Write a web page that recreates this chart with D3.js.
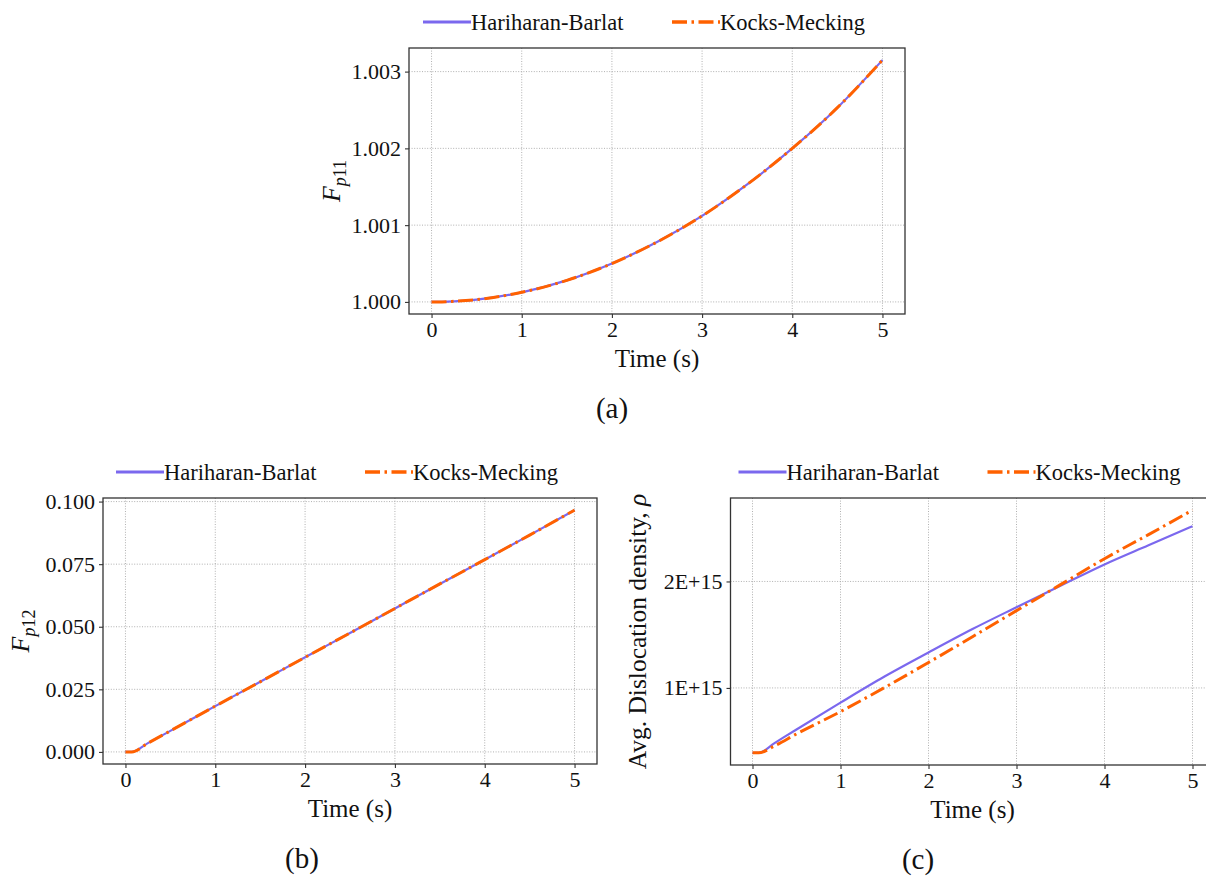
<!DOCTYPE html>
<html>
<head>
<meta charset="utf-8">
<script src="https://cdn.jsdelivr.net/npm/d3@7"></script>
<style>
  body { margin: 0; background: #fff; }
  text { font-family: "Liberation Serif", serif; fill: #111; }
</style>
</head>
<body>
<div id="graph-container"></div>
<script>
// time samples (s)
const times = [0, 0.07, 0.25, 0.5, 1, 1.5, 2, 2.5, 3, 3.5, 4, 4.5, 5]
const xTicks = [0, 1, 2, 3, 4, 5]
const seriesNames = ["Hariharan-Barlat", "Kocks-Mecking"]

// (a) Fp11
const fp11HB = [1.0, 1.0, 1.000008, 1.00003, 1.000125, 1.00028, 1.0005, 1.00078, 1.00112, 1.00153, 1.002, 1.00253, 1.00315]
const fp11KM = [1.0, 1.0, 1.000008, 1.00003, 1.000125, 1.00028, 1.0005, 1.00078, 1.00112, 1.00153, 1.002, 1.00253, 1.00315]
const fp11Ticks = [1.000, 1.001, 1.002, 1.003]

// (b) Fp12
const fp12HB = [0, 0, 0.0035, 0.0084, 0.0183, 0.0280, 0.0378, 0.0475, 0.0573, 0.0671, 0.0768, 0.0866, 0.0966]
const fp12KM = [0, 0, 0.0035, 0.0084, 0.0183, 0.0280, 0.0378, 0.0475, 0.0573, 0.0671, 0.0768, 0.0866, 0.0966]
const fp12Ticks = [0, 0.025, 0.05, 0.075, 0.1]

// (c) avg dislocation density
const rhoHB = [0.39e15, 0.39e15, 0.482e15, 0.61e15, 0.862e15, 1.107e15, 1.333e15, 1.553e15, 1.758e15, 1.96e15, 2.16e15, 2.34e15, 2.519e15]
const rhoKM = [0.39e15, 0.39e15, 0.455e15, 0.568e15, 0.777e15, 1.003e15, 1.239e15, 1.481e15, 1.726e15, 1.97e15, 2.214e15, 2.44e15, 2.67e15]
const rhoTicks = [1e15, 2e15]

const blue = "#7b68ee"
const orange = "#ff6100"
const width = 1206
const height = 877

const svg = d3.select("#graph-container").append("svg")
    .attr("width", width)
    .attr("height", height)
    .attr("viewBox", [0, 0, width, height])

svg.append("rect").attr("width", width).attr("height", height).attr("fill", "#fff")

function drawPanel(opt) {
    const g = svg.append("g")
    const x = d3.scaleLinear().domain([-0.25, 5.25]).range([opt.left, opt.right])

    const all = opt.hb.concat(opt.km)
    const lo = d3.min(all), hi = d3.max(all), pad = (hi - lo) * 0.05
    const y = d3.scaleLinear().domain([lo - pad, hi + pad]).range([opt.bottom, opt.top])

    // grid
    const grid = g.append("g")
        .attr("stroke", "#a8a8a8")
        .attr("stroke-width", 0.9)
        .attr("stroke-dasharray", "1,1.6")
    grid.selectAll(".gx").data(xTicks).join("line")
        .attr("x1", d => x(d)).attr("x2", d => x(d))
        .attr("y1", opt.top).attr("y2", opt.bottom)
    grid.selectAll(".gy").data(opt.yTicks).join("line")
        .attr("x1", opt.left).attr("x2", opt.right)
        .attr("y1", d => y(d)).attr("y2", d => y(d))

    // lines
    const line = vals => d3.line()
        .x((d, i) => x(times[i]))
        .y(d => y(d))
        .curve(d3.curveMonotoneX)(vals)

    g.append("path").attr("d", line(opt.hb))
        .attr("fill", "none").attr("stroke", blue).attr("stroke-width", 2.2)
    g.append("path").attr("d", line(opt.km))
        .attr("fill", "none").attr("stroke", orange).attr("stroke-width", 3)
        .attr("stroke-dasharray", "15,4.5,2.5,4.5")

    // axes
    const xAxis = g.append("g")
        .attr("transform", `translate(0,${opt.bottom})`)
        .call(d3.axisBottom(x).tickValues(xTicks).tickFormat(d3.format("d")).tickSize(4).tickPadding(3))
    const yAxis = g.append("g")
        .attr("transform", `translate(${opt.left},0)`)
        .call(d3.axisLeft(y).tickValues(opt.yTicks).tickFormat(opt.yFormat).tickSize(4).tickPadding(4))
    for (const ax of [xAxis, yAxis]) {
        ax.select(".domain").remove()
        ax.selectAll(".tick line").attr("stroke", "#333").attr("stroke-width", 1.1)
        ax.selectAll(".tick text").attr("font-family", "Liberation Serif, serif").attr("font-size", 22).attr("fill", "#111")
    }

    // frame
    g.append("rect")
        .attr("x", opt.left).attr("y", opt.top)
        .attr("width", opt.right - opt.left).attr("height", opt.bottom - opt.top)
        .attr("fill", "none").attr("stroke", "#333").attr("stroke-width", 1.3)

    // x label
    g.append("text")
        .attr("x", (opt.left + opt.right) / 2).attr("y", opt.bottom + 53)
        .attr("text-anchor", "middle").attr("font-size", 25)
        .text("Time (s)")

    // y label
    const yl = g.append("text")
        .attr("transform", `translate(${opt.ylabelX},${(opt.top + opt.bottom) / 2}) rotate(-90)`)
        .attr("text-anchor", "middle").attr("dy", "0.35em").attr("font-size", opt.ylabelSize)
    opt.ylabel(yl)

    // caption
    g.append("text")
        .attr("x", opt.captionX).attr("y", opt.bottom + 104)
        .attr("text-anchor", "middle").attr("font-size", 29)
        .text(opt.caption)

    // legend
    const cx = (opt.left + opt.right) / 2
    const ly = opt.top - 26
    const items = [
        { name: seriesNames[0], x: cx - 234, color: blue, w: 3, dash: null },
        { name: seriesNames[1], x: cx + 15, color: orange, w: 3.5, dash: "15,4.5,2.5,4.5" }
    ]
    const leg = g.append("g")
    items.forEach(it => {
        leg.append("line")
            .attr("x1", it.x).attr("x2", it.x + 48)
            .attr("y1", ly).attr("y2", ly)
            .attr("stroke", it.color).attr("stroke-width", it.w)
            .attr("stroke-dasharray", it.dash)
        leg.append("text")
            .attr("x", it.x + 48).attr("y", ly).attr("dy", "0.35em")
            .attr("font-size", 22.5)
            .text(it.name)
    })
}

function fLabel(sub) {
    return t => {
        t.append("tspan").attr("font-style", "italic").text("F")
        t.append("tspan").attr("font-style", "italic").attr("font-size", 18).attr("dy", 6).text("p")
        t.append("tspan").attr("font-size", 18).text(sub)
    }
}

drawPanel({
    left: 409, right: 905, top: 48, bottom: 314,
    hb: fp11HB, km: fp11KM, yTicks: fp11Ticks, yFormat: d3.format(".3f"),
    ylabelX: 331, ylabelSize: 26, ylabel: fLabel("11"),
    caption: "(a)", captionX: 612
})

drawPanel({
    left: 103, right: 597, top: 498, bottom: 764,
    hb: fp12HB, km: fp12KM, yTicks: fp12Ticks, yFormat: d3.format(".3f"),
    ylabelX: 20, ylabelSize: 26, ylabel: fLabel("12"),
    caption: "(b)", captionX: 302
})

drawPanel({
    left: 730.5, right: 1214.5, top: 498, bottom: 765,
    hb: rhoHB, km: rhoKM, yTicks: rhoTicks, yFormat: d => `${Math.round(d / 1e15)}E+15`,
    ylabelX: 637, ylabelSize: 25.5,
    ylabel: t => {
        t.text("Avg. Dislocation density, ")
        t.append("tspan").attr("font-style", "italic").text("ρ")
    },
    caption: "(c)", captionX: 918
})
</script>
</body>
</html>
